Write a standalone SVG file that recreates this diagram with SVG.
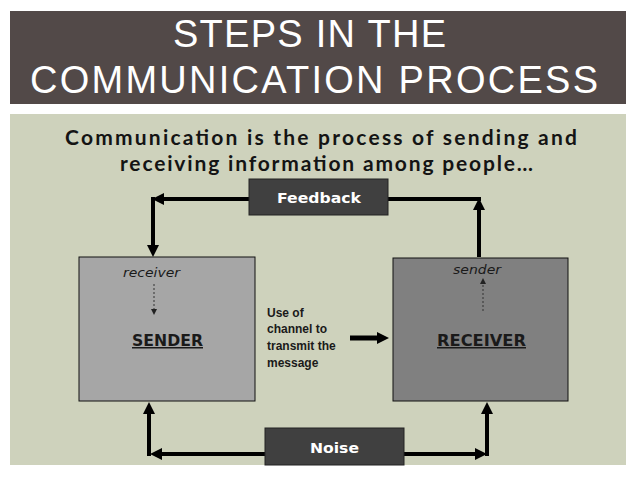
<svg xmlns="http://www.w3.org/2000/svg" width="638" height="479" viewBox="0 0 638 479">
  <style>
    .title { font-family: "Liberation Sans", Arial, sans-serif; font-weight: 400; font-size: 38px; fill: #ffffff; }
    .sub { font-family: Lato, "Open Sans", sans-serif; font-weight: 700; font-size: 21px; fill: #141414; }
    .boxlbl { font-family: "DejaVu Sans", Verdana, sans-serif; font-weight: 700; font-size: 14px; fill: #ffffff; text-anchor: middle; }
    .role { font-family: "DejaVu Sans", Verdana, sans-serif; font-weight: 700; font-size: 15px; fill: #1a1a1a; text-decoration: underline; }
    .ital { font-family: "DejaVu Sans", Verdana, sans-serif; font-style: italic; font-size: 13px; fill: #1a1a1a; }
    .chan { font-family: "Liberation Sans", Arial, sans-serif; font-weight: 700; font-size: 12px; fill: #1a1a1a; }
    .thick { stroke: #000; stroke-width: 4; fill: none; }
    .dot { stroke: #333; stroke-width: 1; stroke-dasharray: 2 2; fill: none; }
  </style>
  <defs>
    <marker id="ah" markerUnits="userSpaceOnUse" markerWidth="12" markerHeight="12" refX="6" refY="6" orient="auto">
      <path d="M0,0 L12,6 L0,12 z" fill="#000"/>
    </marker>
    <marker id="ahs" markerUnits="userSpaceOnUse" markerWidth="6" markerHeight="6" refX="3" refY="3" orient="auto">
      <path d="M0,0 L6,3 L0,6 z" fill="#222"/>
    </marker>
  </defs>
  <rect x="0" y="0" width="638" height="479" fill="#ffffff"/>
  <g id="title">
    <rect x="10" y="11" width="616" height="93" fill="#524948"/>
    <text class="title" x="173" y="47" textLength="273" lengthAdjust="spacing">STEPS IN THE</text>
    <text class="title" x="30" y="93" textLength="568" lengthAdjust="spacing">COMMUNICATION PROCESS</text>
  </g>
  <rect id="panel" x="10" y="114" width="616" height="351" fill="#ced2bc"/>
  <g id="subtitle">
    <text class="sub" x="65" y="145" textLength="512" lengthAdjust="spacing">Communication is the  process of sending and</text>
    <text class="sub" x="120" y="171" textLength="413" lengthAdjust="spacing">receiving information among people…</text>
  </g>
  <g id="connectors">
    <line class="thick" x1="249" y1="199" x2="158" y2="199" marker-end="url(#ah)"/>
    <line class="thick" x1="153" y1="197" x2="153" y2="251" marker-end="url(#ah)"/>
    <line class="thick" x1="388" y1="199" x2="481" y2="199"/>
    <line class="thick" x1="479" y1="257" x2="479" y2="204" marker-end="url(#ah)"/>
    <line class="thick" x1="265" y1="454" x2="156" y2="454" marker-end="url(#ah)"/>
    <line class="thick" x1="149" y1="456" x2="149" y2="408" marker-end="url(#ah)"/>
    <line class="thick" x1="404" y1="454" x2="481" y2="454" marker-end="url(#ah)"/>
    <line class="thick" x1="487" y1="456" x2="487" y2="408" marker-end="url(#ah)"/>
    <line x1="350" y1="338" x2="383" y2="338" stroke="#000" stroke-width="5" marker-end="url(#ah)"/>
  </g>
  <g id="feedback">
    <rect x="249" y="179" width="139" height="36" fill="#404040" stroke="#222" stroke-width="1"/>
    <text class="boxlbl" x="319" y="203" textLength="84" lengthAdjust="spacingAndGlyphs">Feedback</text>
  </g>
  <g id="sender">
    <rect x="79" y="257" width="176" height="144" fill="#a6a6a6" stroke="#111" stroke-width="1"/>
    <text class="ital" x="123" y="277" textLength="57" lengthAdjust="spacingAndGlyphs">receiver</text>
    <line class="dot" x1="154" y1="284" x2="154" y2="312" marker-end="url(#ahs)"/>
    <text class="role" x="132" y="346" textLength="71" lengthAdjust="spacingAndGlyphs">SENDER</text>
  </g>
  <g id="receiver">
    <rect x="393" y="258" width="175" height="143" fill="#808080" stroke="#111" stroke-width="1"/>
    <text class="ital" x="453" y="274" textLength="48" lengthAdjust="spacingAndGlyphs">sender</text>
    <line class="dot" x1="483" y1="311" x2="483" y2="281" marker-end="url(#ahs)"/>
    <text class="role" x="437" y="346" textLength="89" lengthAdjust="spacingAndGlyphs">RECEIVER</text>
  </g>
  <g id="channel">
    <text class="chan" x="267" y="317">Use of</text>
    <text class="chan" x="267" y="333">channel to</text>
    <text class="chan" x="267" y="350">transmit the</text>
    <text class="chan" x="267" y="367">message</text>
  </g>
  <g id="noise">
    <rect x="265" y="428" width="139" height="37" fill="#404040" stroke="#222" stroke-width="1"/>
    <text class="boxlbl" x="334.5" y="453" textLength="49" lengthAdjust="spacingAndGlyphs">Noise</text>
  </g>
</svg>
